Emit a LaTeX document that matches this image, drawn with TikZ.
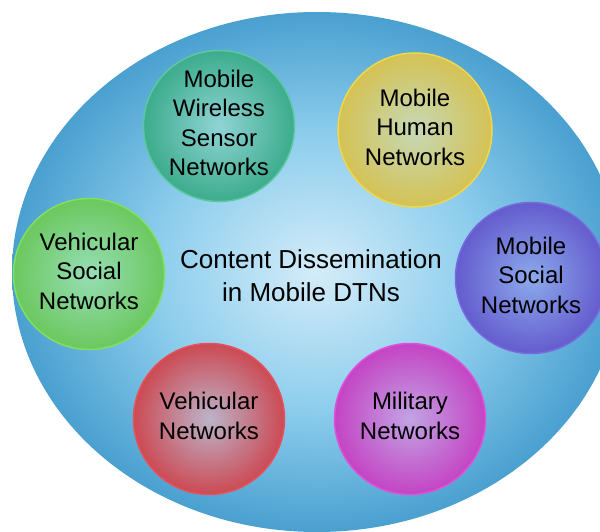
\documentclass[tikz,border=0pt]{standalone}
\usepackage{fontspec}
\setmainfont{Liberation Sans}
\usetikzlibrary{shapes.geometric}

\definecolor{seaedge}{RGB}{74,160,208}
\definecolor{seamid}{RGB}{142,206,237}
\definecolor{seacore}{RGB}{212,236,249}
\pgfdeclareradialshading{seashade}{\pgfpoint{0bp}{0bp}}{color(0bp)=(seacore); color(13bp)=(seamid); color(25bp)=(seaedge); color(50bp)=(seaedge)}

\definecolor{tealedge}{RGB}{60,172,140}
\definecolor{tealcore}{RGB}{144,212,214}
\definecolor{tealline}{RGB}{92,200,160}
\definecolor{goldedge}{RGB}{212,194,84}
\definecolor{goldcore}{RGB}{198,216,182}
\definecolor{goldline}{RGB}{240,216,76}
\definecolor{violedge}{RGB}{100,92,206}
\definecolor{violcore}{RGB}{140,170,236}
\definecolor{violline}{RGB}{120,106,222}
\definecolor{leafedge}{RGB}{108,200,94}
\definecolor{leafcore}{RGB}{150,222,182}
\definecolor{leafline}{RGB}{128,224,96}
\definecolor{rubyedge}{RGB}{204,74,84}
\definecolor{rubycore}{RGB}{188,180,202}
\definecolor{rubyline}{RGB}{232,80,90}
\definecolor{plumedge}{RGB}{196,68,196}
\definecolor{plumcore}{RGB}{194,164,228}
\definecolor{plumline}{RGB}{224,80,216}

\begin{document}
\begin{tikzpicture}[x=1pt,y=-1pt,
    net/.style n args={3}{circle, minimum size=151pt, inner sep=0pt,
      inner color=#2, outer color=#1, draw=#3, line width=1.5pt},
    nettext/.style={align=center, yshift=3pt, font=\fontsize{24}{29.5}\selectfont}]
  \useasboundingbox (0,0) rectangle (600,532);
  \clip (0,0) rectangle (600,532);

  % outer region
  \node [ellipse, minimum width=610pt, minimum height=520pt, inner sep=0pt,
         shading=seashade] (dtn) at (317,272) {};
  \node [align=center, font=\fontsize{26}{33}\selectfont] (topic) at (311,276)
        {Content Dissemination\\in Mobile DTNs};

  % the six network kinds
  \node [net={tealedge}{tealcore}{tealline},
         label={[nettext]center:Mobile\\Wireless\\Sensor\\Networks}] (sensor) at (219,126) {};
  \node [net={goldedge}{goldcore}{goldline}, minimum size=154pt,
         label={[nettext]center:Mobile\\Human\\Networks}] (human) at (415,130) {};
  \node [net={violedge}{violcore}{violline},
         label={[nettext]center:Mobile\\Social\\Networks}] (mobsoc) at (531,278) {};
  \node [net={leafedge}{leafcore}{leafline},
         label={[nettext]center:Vehicular\\Social\\Networks}] (vehsoc) at (89,274) {};
  \node [net={rubyedge}{rubycore}{rubyline},
         label={[nettext]center:Vehicular\\Networks}] (vehic) at (209,419) {};
  \node [net={plumedge}{plumcore}{plumline},
         label={[nettext]center:Military\\Networks}] (military) at (410,419) {};
\end{tikzpicture}
\end{document}
